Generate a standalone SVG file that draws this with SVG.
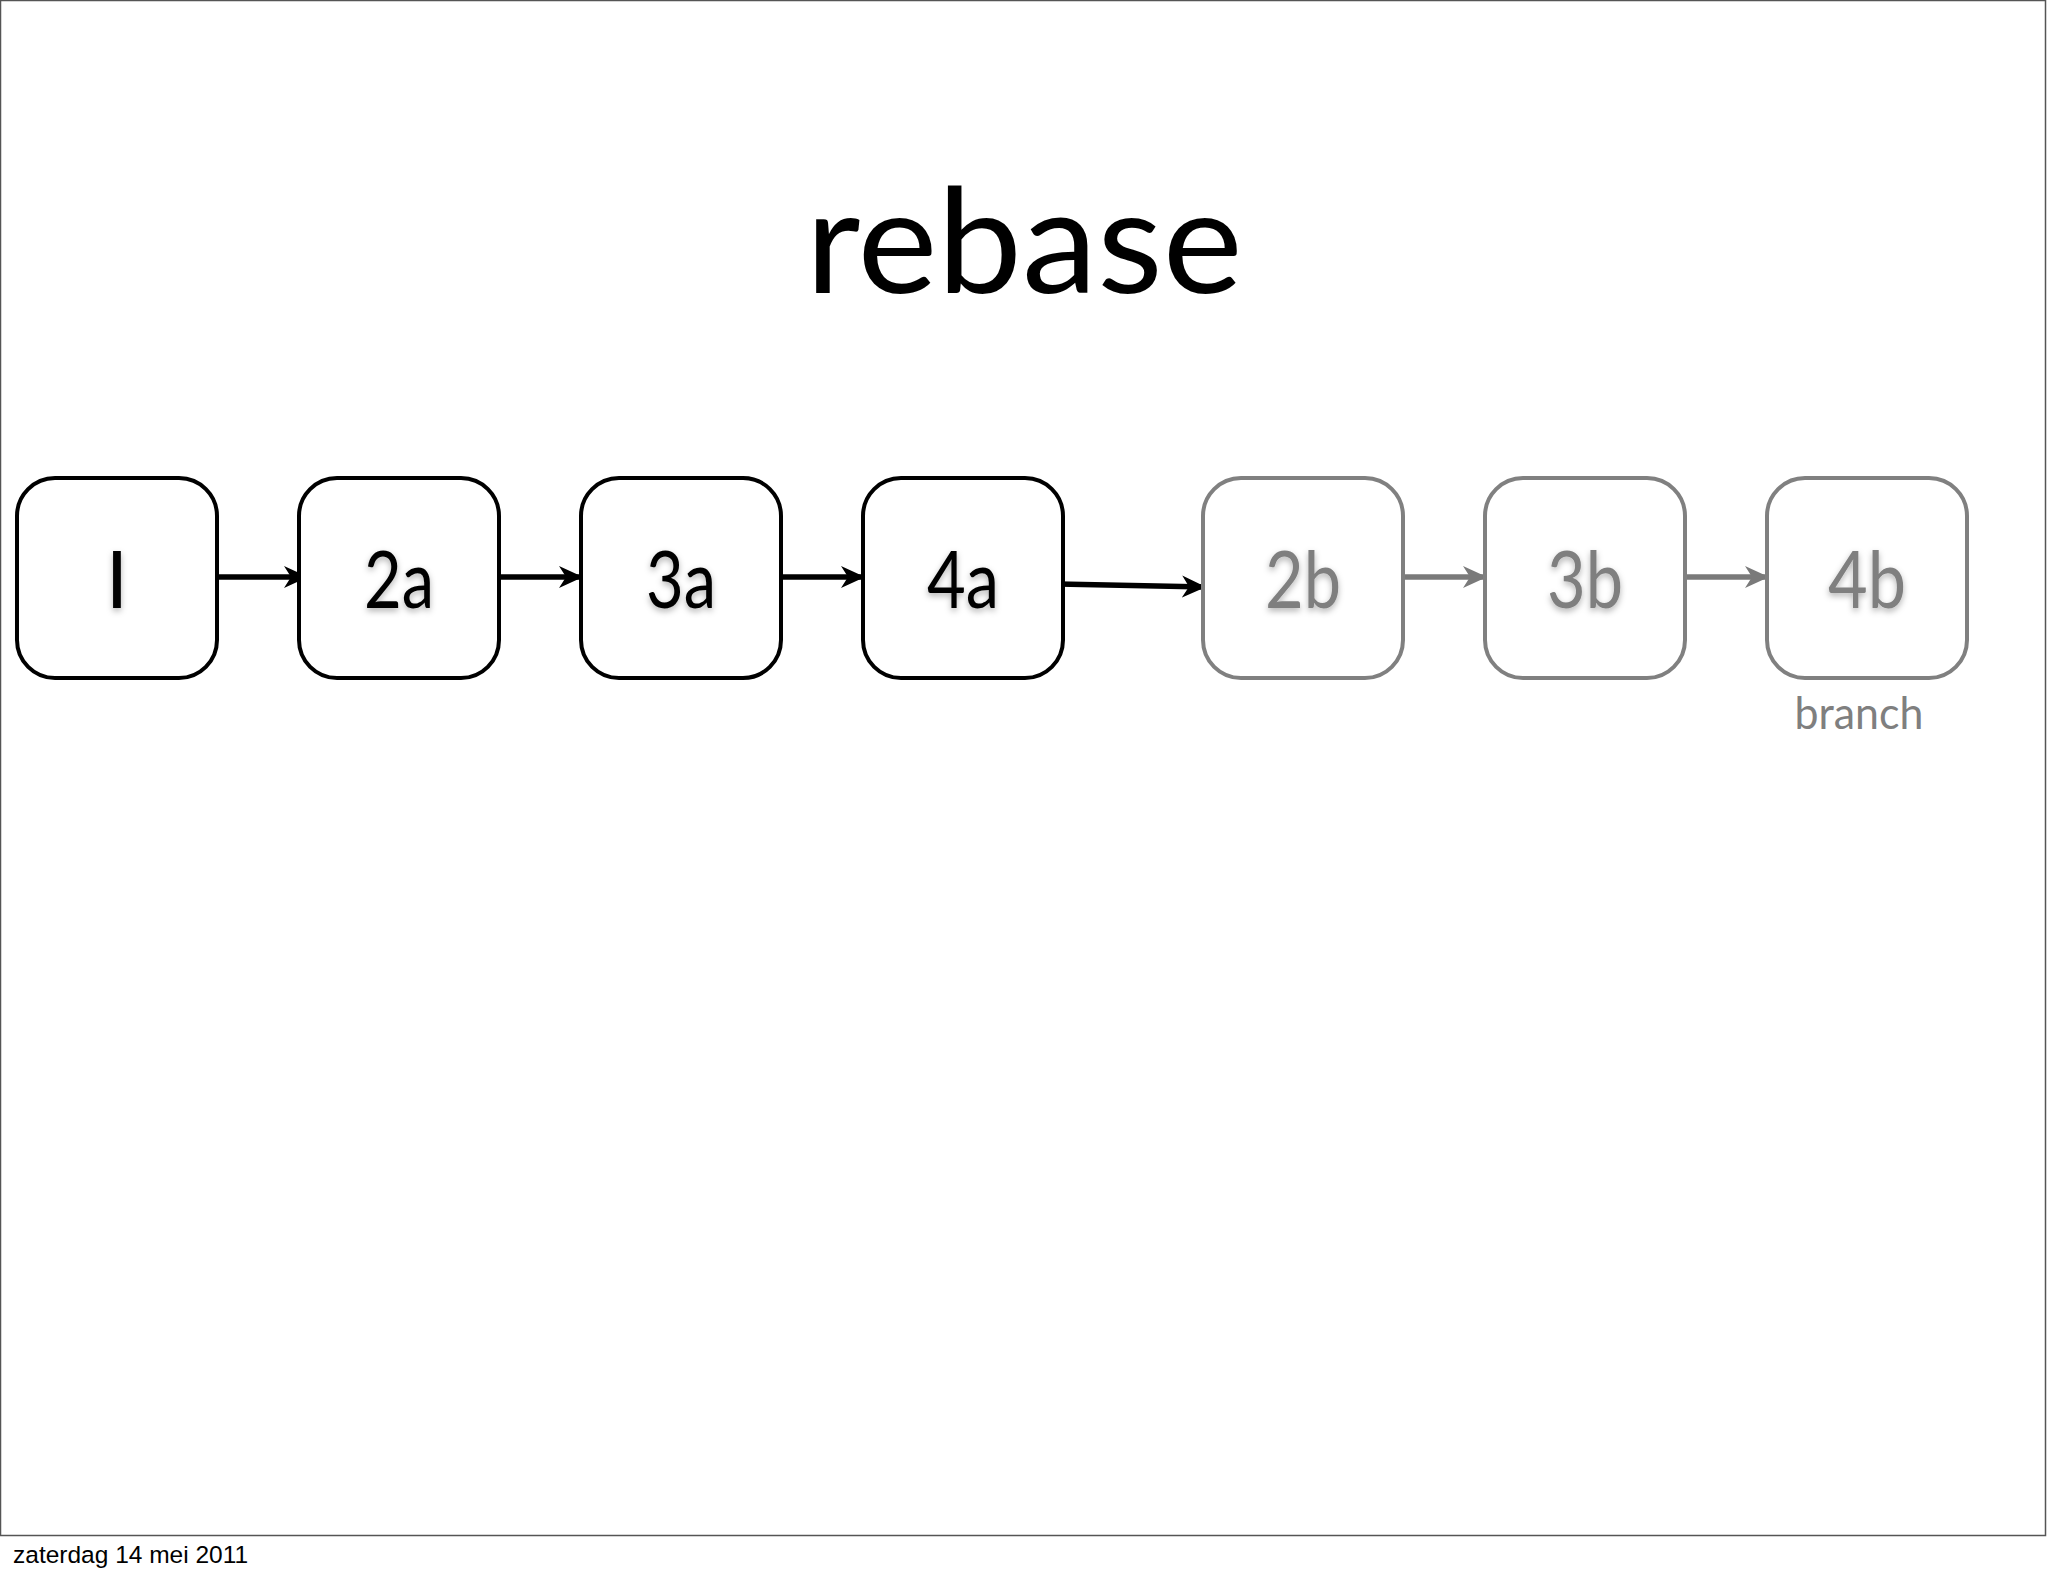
<svg xmlns="http://www.w3.org/2000/svg" width="2048" height="1576" viewBox="0 0 2048 1576">
  <defs>
    <filter id="sh" x="-30%" y="-30%" width="160%" height="170%">
      <feDropShadow dx="0" dy="3" stdDeviation="3" flood-color="#000" flood-opacity="0.3"/>
    </filter>
    <marker id="ah" markerUnits="userSpaceOnUse" markerWidth="26" markerHeight="24" refX="24" refY="12" orient="auto">
      <path d="M0,1 L24,12 L0,23 L7,12 z" fill="#000"/>
    </marker>
    <marker id="ahg" markerUnits="userSpaceOnUse" markerWidth="26" markerHeight="24" refX="24" refY="12" orient="auto">
      <path d="M0,1 L24,12 L0,23 L7,12 z" fill="#7a7a7a"/>
    </marker>
  </defs>
  <style>
    .box { fill: #fff; stroke: #000; stroke-width: 4; }
    .gbox { fill: #fff; stroke: #808080; stroke-width: 4; }
    .lbl { font-family: Lato, "Open Sans", sans-serif; font-size: 80px; text-anchor: middle; fill: #000; }
    .glbl { font-family: Lato, "Open Sans", sans-serif; font-size: 80px; text-anchor: middle; fill: #7f7f7f; }
    .conn { stroke: #000; stroke-width: 5.5; fill: none; }
    .gconn { stroke: #7a7a7a; stroke-width: 5.5; fill: none; }
  </style>
  <rect x="0" y="0" width="2048" height="1576" fill="#fff"/>
  <rect x="0.5" y="0.5" width="2045" height="1535" fill="none" stroke="#555" stroke-width="1.5"/>

  <text x="1024" y="293" font-family="Lato, 'Open Sans', sans-serif" font-size="146" text-anchor="middle" textLength="437" lengthAdjust="spacingAndGlyphs" fill="#000">rebase</text>

  <g id="connectors">
    <line class="conn" x1="217" y1="577" x2="308" y2="577" marker-end="url(#ah)"/>
    <line class="conn" x1="497" y1="577" x2="583" y2="577" marker-end="url(#ah)"/>
    <line class="conn" x1="779" y1="577" x2="865" y2="577" marker-end="url(#ah)"/>
    <line class="conn" x1="1058" y1="584" x2="1206" y2="587" marker-end="url(#ah)"/>
    <line class="gconn" x1="1401" y1="577" x2="1487" y2="577" marker-end="url(#ahg)"/>
    <line class="gconn" x1="1683" y1="577" x2="1769" y2="577" marker-end="url(#ahg)"/>
  </g>

  <g id="n1">
    <rect class="box" x="17" y="478" width="200" height="200" rx="38"/>
    <text class="lbl" x="117" y="608" filter="url(#sh)">I</text>
  </g>
  <g id="n2a">
    <rect class="box" x="299" y="478" width="200" height="200" rx="38"/>
    <text class="lbl" x="399" y="608" textLength="70" lengthAdjust="spacingAndGlyphs" filter="url(#sh)">2a</text>
  </g>
  <g id="n3a">
    <rect class="box" x="581" y="478" width="200" height="200" rx="38"/>
    <text class="lbl" x="681" y="608" textLength="70" lengthAdjust="spacingAndGlyphs" filter="url(#sh)">3a</text>
  </g>
  <g id="n4a">
    <rect class="box" x="863" y="478" width="200" height="200" rx="38"/>
    <text class="lbl" x="963" y="608" textLength="72" lengthAdjust="spacingAndGlyphs" filter="url(#sh)">4a</text>
  </g>
  <g id="n2b">
    <rect class="gbox" x="1203" y="478" width="200" height="200" rx="38"/>
    <text class="glbl" x="1303" y="608" textLength="76" lengthAdjust="spacingAndGlyphs" filter="url(#sh)">2b</text>
  </g>
  <g id="n3b">
    <rect class="gbox" x="1485" y="478" width="200" height="200" rx="38"/>
    <text class="glbl" x="1585" y="608" textLength="76" lengthAdjust="spacingAndGlyphs" filter="url(#sh)">3b</text>
  </g>
  <g id="n4b">
    <rect class="gbox" x="1767" y="478" width="200" height="200" rx="38"/>
    <text class="glbl" x="1867" y="608" textLength="78" lengthAdjust="spacingAndGlyphs" filter="url(#sh)">4b</text>
  </g>
  <text x="1859" y="729" font-family="Lato, 'Open Sans', sans-serif" font-size="44" text-anchor="middle" textLength="129" lengthAdjust="spacingAndGlyphs" fill="#7f7f7f">branch</text>

  <text x="13" y="1563" font-family="'Liberation Sans', Arial, sans-serif" font-size="24.5" fill="#000">zaterdag 14 mei 2011</text>
</svg>
